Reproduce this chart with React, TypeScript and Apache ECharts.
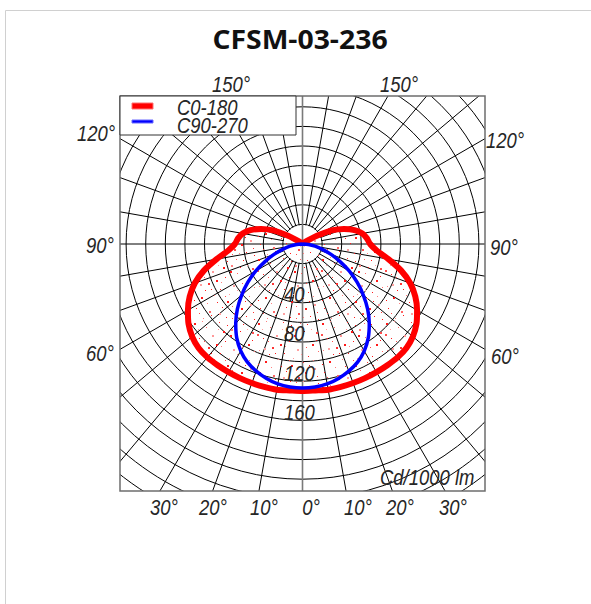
import React, { useEffect, useRef } from 'react';
import * as echarts from 'echarts';

// ---------- data ----------
const chartTitle = 'CFSM-03-236';
const seriesNames = ['C0-180', 'C90-270'];
const unitLabel = 'Cd/1000 lm';

// gamma angles (degrees from nadir)
const gammaAngles = [0, 5, 10, 15, 20, 25, 30, 35, 40, 45, 50, 55, 60, 65, 70, 75, 80, 85, 90,
  95, 100, 105, 110, 115, 120, 125, 130, 135, 140, 145, 150, 155, 160, 165, 170, 175, 180];

// intensities, cd/1000 lm
const c0Values = [150, 150, 151, 151, 151, 151, 151, 151, 151, 150, 147, 142, 135, 127, 117, 104, 89, 76, 69,
  66, 62, 55, 45, 33, 17, 5, 0, 0, 0, 0, 0, 0, 0, 0, 0, 0, 0];
const c180Values = [150, 150, 151, 151, 151, 151, 151, 151, 151, 150, 147, 142, 135, 127, 117, 104, 89, 76, 69,
  66, 62, 55, 45, 33, 17, 5, 0, 0, 0, 0, 0, 0, 0, 0, 0, 0, 0];
const c90Values = [147, 146.5, 145, 142, 138, 133, 126, 117, 106, 94, 81, 68, 55, 42, 31, 21, 13, 6, 0,
  0, 0, 0, 0, 0, 0, 0, 0, 0, 0, 0, 0, 0, 0, 0, 0, 0, 0];
const c270Values = [147, 146.5, 145, 142, 138, 133, 126, 117, 106, 94, 81, 68, 55, 42, 31, 21, 13, 6, 0,
  0, 0, 0, 0, 0, 0, 0, 0, 0, 0, 0, 0, 0, 0, 0, 0, 0, 0];

const radialTickLabels = [40, 80, 120, 160];
const topAngleLabels = ['150°', '150°'];
const sideAngleLabels = ['120°', '90°', '60°'];
const bottomAngleLabels = ['30°', '20°', '10°', '0°', '10°', '20°', '30°'];

// ---------- helpers ----------
function halfToPath(left: number[], right: number[]) {
  const pts: number[][] = [];
  for (let i = gammaAngles.length - 1; i >= 0; i--) pts.push([left[i], gammaAngles[i]]);
  for (let i = 1; i < gammaAngles.length; i++) pts.push([right[i], -gammaAngles[i]]);
  return pts;
}

// hand-placed stipple texture for the C0-180 area
function makeStipple() {
  const cv = document.createElement('canvas');
  cv.width = 64;
  cv.height = 64;
  const g = cv.getContext('2d');
  if (g) {
    const dots: [number, number, number, string][] = [
      [2, 3, 2, '#ff1a1a'], [14, 7, 1, '#ff6666'], [27, 2, 1, '#ff3333'], [39, 9, 2, '#ff8080'],
      [51, 4, 1, '#ff1a1a'], [60, 12, 2, '#ff4d4d'], [7, 18, 1, '#ff1a1a'], [20, 15, 2, '#ff9999'],
      [33, 21, 1, '#ff1a1a'], [45, 17, 1, '#ff6666'], [56, 24, 2, '#ff1a1a'], [3, 30, 1, '#ff8080'],
      [16, 27, 2, '#ff3333'], [28, 33, 1, '#ff1a1a'], [41, 29, 2, '#ffa0a0'], [52, 36, 1, '#ff1a1a'],
      [62, 31, 1, '#ff6666'], [9, 41, 2, '#ff1a1a'], [22, 39, 1, '#ff8080'], [35, 45, 2, '#ff1a1a'],
      [47, 42, 1, '#ff3333'], [58, 48, 2, '#ff9999'], [4, 52, 1, '#ff1a1a'], [17, 55, 2, '#ff6666'],
      [30, 51, 1, '#ff1a1a'], [42, 57, 2, '#ff4d4d'], [54, 60, 1, '#ff1a1a'], [11, 62, 1, '#ff8080'],
      [25, 46, 1, '#ff1a1a'], [37, 38, 1, '#ff9999'], [49, 52, 2, '#ff1a1a'], [61, 56, 1, '#ff3333'],
      [6, 9, 1, '#ffa0a0'], [31, 11, 2, '#ff1a1a'], [44, 3, 1, '#ff6666'], [19, 59, 1, '#ff1a1a'],
      [57, 40, 1, '#ff8080'], [13, 34, 1, '#ff1a1a'], [40, 62, 1, '#ff4d4d'], [24, 24, 2, '#ff1a1a'],
      [10, 1, 1, '#ff8080'], [35, 5, 1, '#ff1a1a'], [55, 9, 1, '#ffa0a0'], [1, 14, 2, '#ff4d4d'],
      [26, 9, 1, '#ff9999'], [48, 11, 1, '#ff1a1a'], [12, 21, 1, '#ff4d4d'], [38, 15, 2, '#ff1a1a'],
      [29, 26, 1, '#ff8080'], [50, 27, 1, '#ff4d4d'], [8, 28, 2, '#ffa0a0'], [60, 20, 1, '#ff1a1a'],
      [19, 33, 1, '#ff1a1a'], [45, 34, 1, '#ff9999'], [33, 40, 1, '#ff4d4d'], [2, 44, 1, '#ff1a1a'],
      [15, 47, 1, '#ff8080'], [53, 45, 1, '#ff1a1a'], [40, 50, 1, '#ff6666'], [27, 57, 2, '#ffa0a0'],
      [62, 63, 1, '#ff1a1a'], [7, 57, 1, '#ff4d4d'], [47, 61, 1, '#ff8080'], [34, 61, 1, '#ff1a1a'],
    ];
    dots.forEach(([x, y, s, c]) => {
      g.fillStyle = c;
      g.fillRect(x, y, s, s);
    });
  }
  return cv;
}

export default function App() {
  const ref = useRef<HTMLDivElement>(null);

  useEffect(() => {
    const el = ref.current;
    if (!el) return;
    const chart = echarts.init(el, null, { renderer: 'svg' });

    const cx = 302.5;
    const cy = 244;
    const k = 0.98; // px per cd/klm
    const rMax = 320;
    const bx1 = 120, by1 = 96, bx2 = 485, by2 = 491;

    const labelFont = 'italic 22px "Liberation Sans", Arial, sans-serif';
    const sx = 0.84;
    const txt = (text: string, x: number, y: number, align = 'center', va = 'middle') => ({
      type: 'text', x, y, scaleX: sx, z: 20, silent: true,
      style: { text, font: labelFont, fill: '#262626', textAlign: align, textVerticalAlign: va },
    });

    const graphics: any[] = [
      // inner white disk (rays start at first circle)
      { type: 'circle', shape: { cx, cy, r: 20 * k - 0.7 }, style: { fill: '#fff' }, z: 1, silent: true },
      { type: 'line', shape: { x1: cx - 20 * k, y1: cy, x2: cx + 20 * k, y2: cy }, style: { stroke: '#000', lineWidth: 1 }, z: 2, silent: true },
      { type: 'line', shape: { x1: cx, y1: by1, x2: cx, y2: by2 }, style: { stroke: '#7a7a7a', lineWidth: 1.6 }, z: 2, silent: true },
      // masks outside the frame
      { type: 'rect', shape: { x: 0, y: 0, width: 591, height: by1 }, style: { fill: '#fff' }, z: 10, silent: true },
      { type: 'rect', shape: { x: 0, y: by2, width: 591, height: 604 - by2 }, style: { fill: '#fff' }, z: 10, silent: true },
      { type: 'rect', shape: { x: 0, y: by1, width: bx1, height: by2 - by1 }, style: { fill: '#fff' }, z: 10, silent: true },
      { type: 'rect', shape: { x: bx2, y: by1, width: 591 - bx2, height: by2 - by1 }, style: { fill: '#fff' }, z: 10, silent: true },
      // plot frame
      { type: 'rect', shape: { x: bx1, y: by1, width: bx2 - bx1, height: by2 - by1 }, style: { fill: 'none', stroke: '#6e6e6e', lineWidth: 1.5 }, z: 11, silent: true },
      // page card border
      { type: 'line', shape: { x1: 5.5, y1: 10.5, x2: 5.5, y2: 604 }, style: { stroke: '#d0d0d0', lineWidth: 1 }, z: 20, silent: true },
      { type: 'line', shape: { x1: 5.5, y1: 10.5, x2: 591, y2: 10.5 }, style: { stroke: '#d0d0d0', lineWidth: 1 }, z: 20, silent: true },
      // title
      {
        type: 'text', x: 300, y: 38, z: 20, silent: true, scaleX: 1.05,
        style: { text: chartTitle, font: 'bold 27px "Open Sans", Lato, sans-serif', fill: '#111', textAlign: 'center', textVerticalAlign: 'middle' },
      },
      // legend
      { type: 'rect', shape: { x: bx1, y: by1, width: 176, height: 39 }, style: { fill: '#fff', stroke: '#333', lineWidth: 1 }, z: 12, silent: true },
      { type: 'rect', shape: { x: 132, y: 103, width: 21, height: 6 }, style: { fill: '#ff0000', stroke: '#ff7070', lineWidth: 1 }, z: 13, silent: true },
      { type: 'rect', shape: { x: 132, y: 120, width: 21, height: 3 }, style: { fill: '#0000ff', stroke: '#6a6aff', lineWidth: 1 }, z: 13, silent: true },
      { ...txt(seriesNames[0], 177, 107, 'left'), z: 13 },
      { ...txt(seriesNames[1], 177, 125, 'left'), z: 13 },
      // unit
      txt(unitLabel, 380, 477, 'left'),
      // angle labels
      txt(topAngleLabels[0], 231, 84),
      txt(topAngleLabels[1], 399, 84),
      txt(sideAngleLabels[0], 96, 133),
      txt(sideAngleLabels[0], 505, 140),
      txt(sideAngleLabels[1], 100, 245),
      txt(sideAngleLabels[1], 504, 247),
      txt(sideAngleLabels[2], 100, 353),
      txt(sideAngleLabels[2], 505, 356),
    ];
    const bottomX = [164, 213, 264, 311, 358, 400, 453];
    bottomAngleLabels.forEach((t, i) => graphics.push(txt(t, bottomX[i], 507)));
    radialTickLabels.forEach((v) => graphics.push({ ...txt(String(v), 284, cy + v * k + 0.5, 'left', 'top'), z: 9 }));

    const stipple = makeStipple();

    const option: any = {
      animation: false,
      backgroundColor: '#fff',
      polar: { center: [cx, cy], radius: rMax * k },
      angleAxis: {
        type: 'value', min: -180, max: 180, interval: 10, startAngle: 90, clockwise: true, z: 0,
        axisLine: { show: false }, axisTick: { show: false }, axisLabel: { show: false },
        splitLine: { show: true, lineStyle: { color: '#000', width: 1 } },
      },
      radiusAxis: {
        type: 'value', min: 0, max: rMax, interval: 20, z: 0,
        axisLine: { show: false }, axisTick: { show: false }, axisLabel: { show: false },
        splitLine: { show: true, lineStyle: { color: '#000', width: 1 } },
      },
      series: [
        {
          name: seriesNames[0], type: 'line', coordinateSystem: 'polar', z: 3,
          data: halfToPath(c0Values, c180Values), showSymbol: false, smooth: 0.25,
          lineStyle: { color: '#ff0000', width: 6 },
          areaStyle: { color: { image: stipple, repeat: 'repeat' }, opacity: 1 },
        },
        {
          name: seriesNames[1], type: 'line', coordinateSystem: 'polar', z: 4,
          data: halfToPath(c90Values, c270Values), showSymbol: false, smooth: 0.25,
          lineStyle: { color: '#0000ff', width: 3.5 },
        },
      ],
      graphic: { elements: graphics },
    };

    chart.setOption(option);
    return () => chart.dispose();
  }, []);

  return (
    <div
      ref={ref}
      style={{ position: 'fixed', left: 0, top: 0, width: 591, height: 604, background: '#fff' }}
    />
  );
}
